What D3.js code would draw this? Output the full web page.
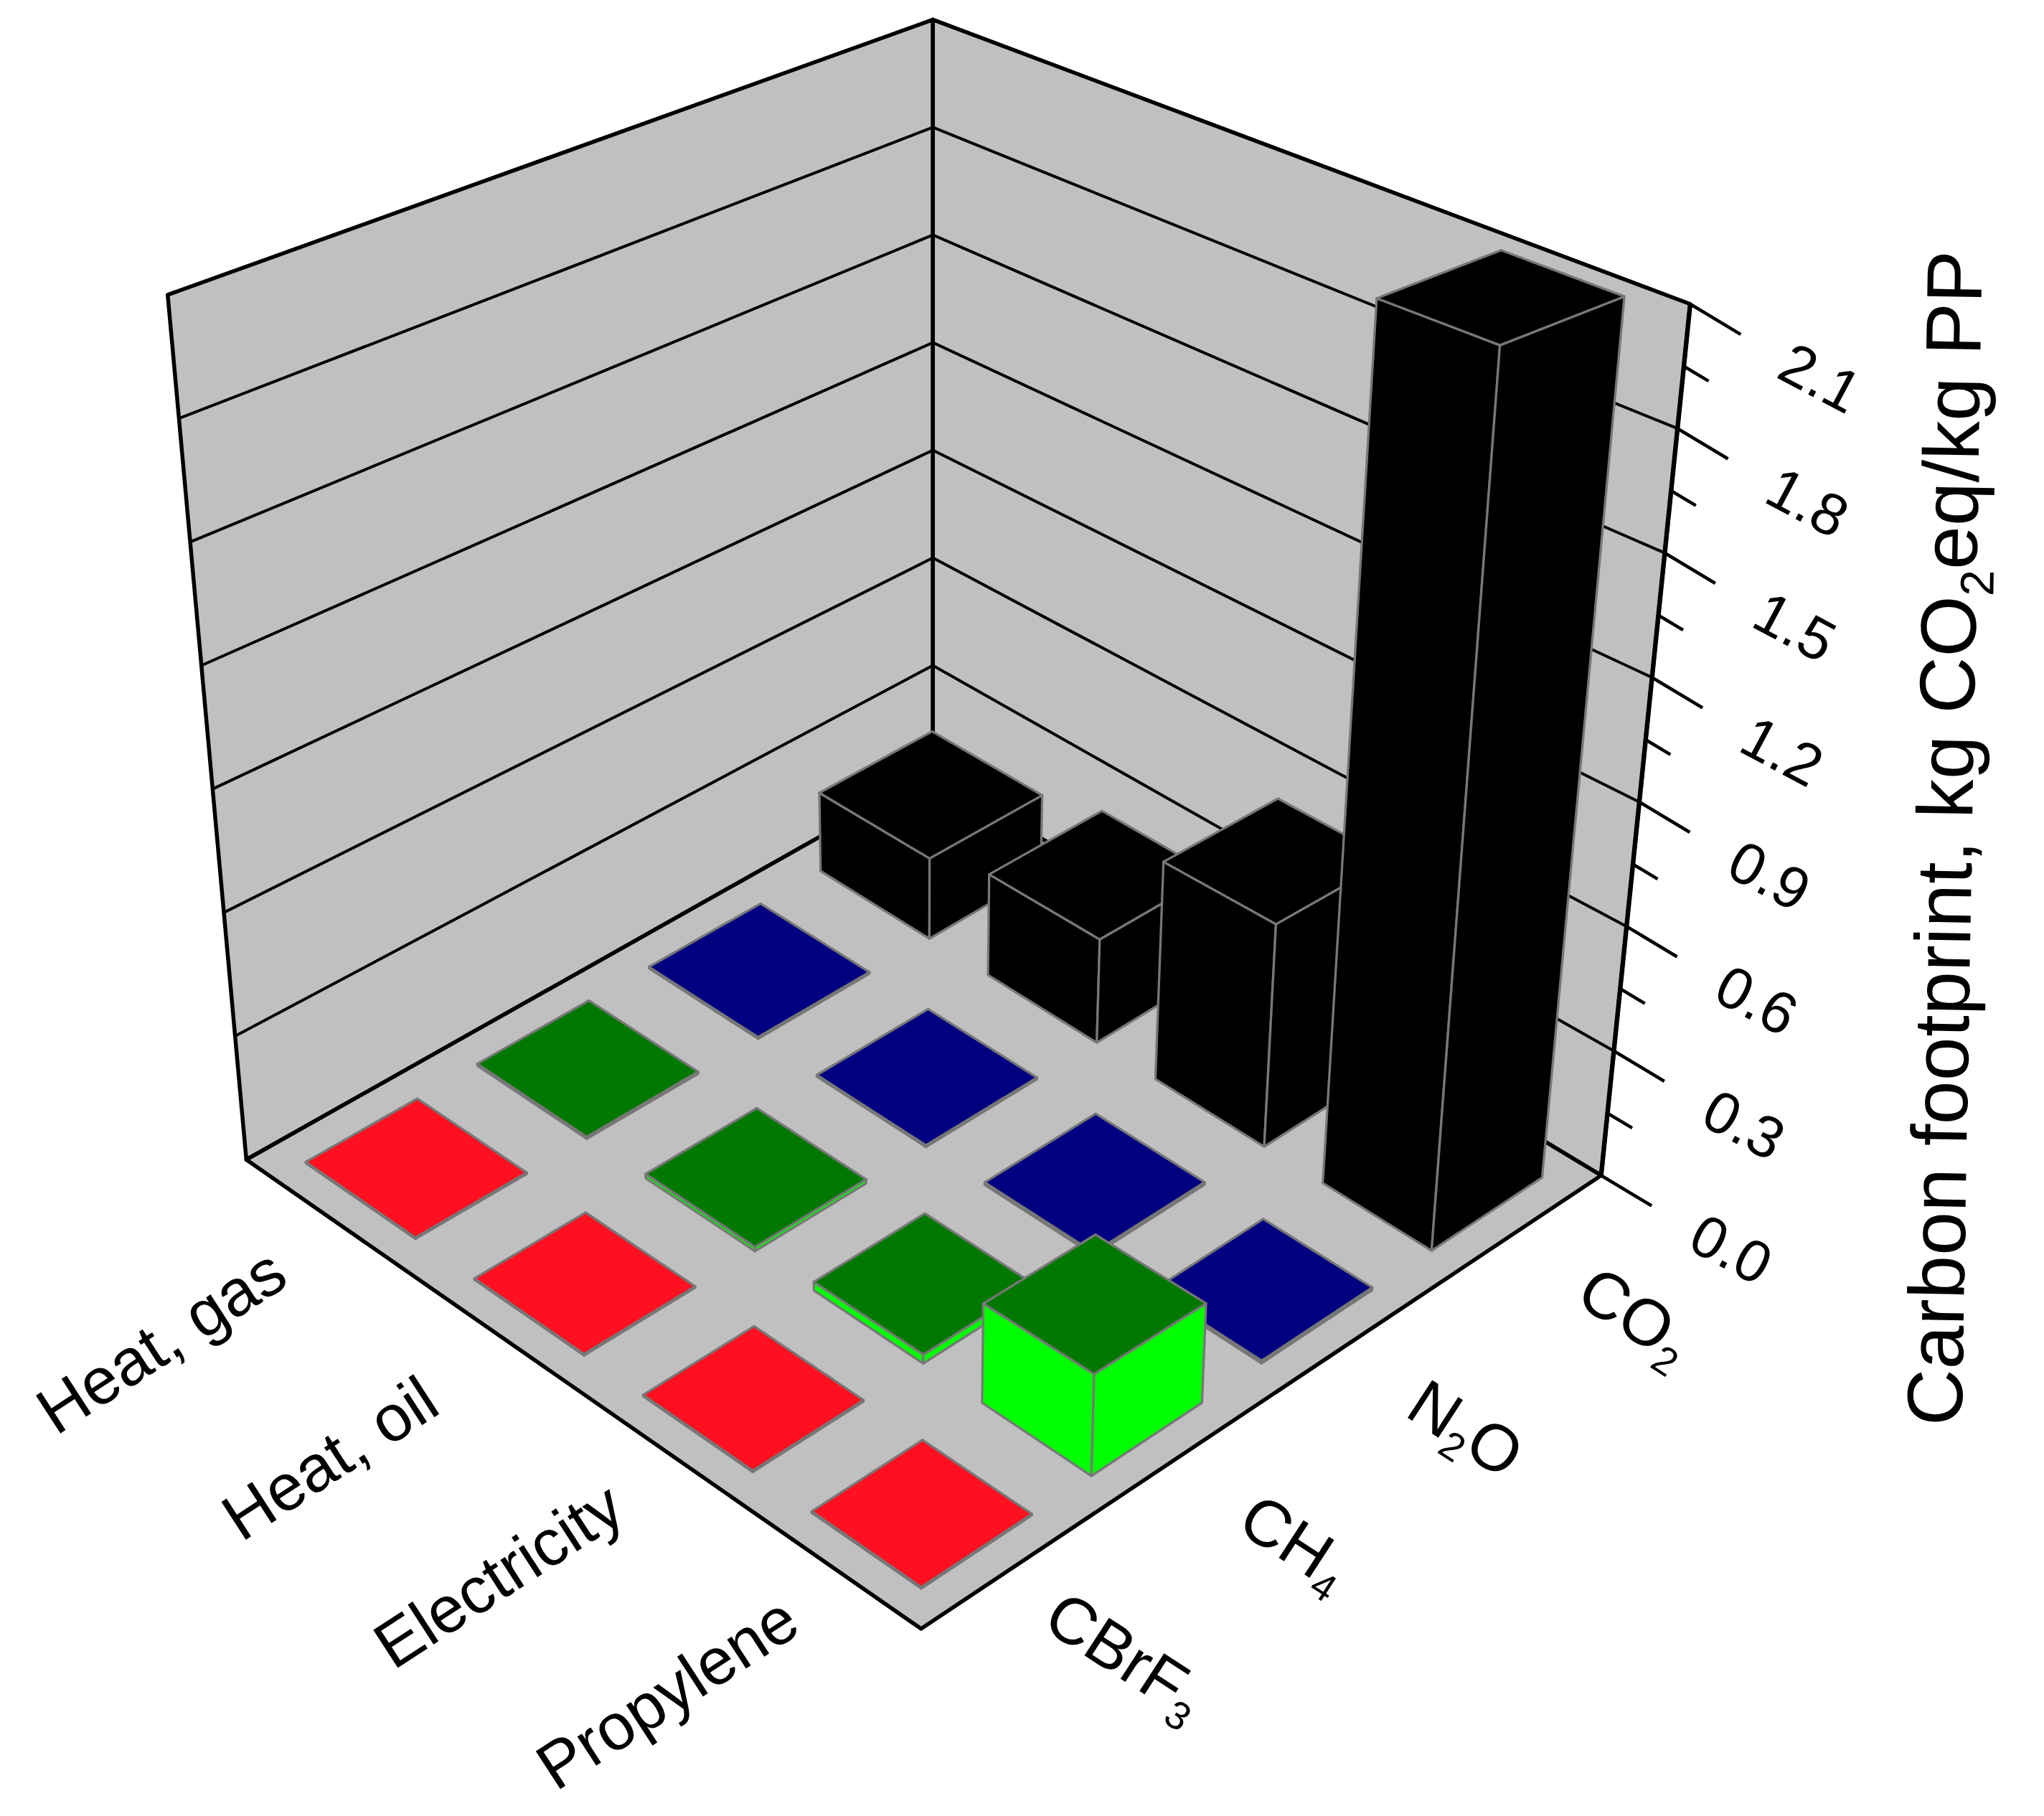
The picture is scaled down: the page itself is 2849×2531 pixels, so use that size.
<!DOCTYPE html>
<html><head><meta charset="utf-8">
<script src="https://cdn.jsdelivr.net/npm/d3@7"></script>
<style>body{margin:0;background:#fff}text{font-family:"Liberation Sans",Arial,sans-serif;fill:#000}</style>
</head><body><svg id="c" width="2849" height="2531"></svg>
<script>
const categories = ["Heat, gas","Heat, oil","Electricity","Propylene"];
const gases = ["CO2","N2O","CH4","CBrF3"];
const gasLabels = [["CO","2"],["N","2","O"],["CH","4"],["CBrF","3"]];
const co2 = [0.21,0.26,0.54,2.12];
const n2o = [0.004,0.004,0.006,0.006];
const ch4 = [0.005,0.01,0.02,0.22];
const cbrf3 = [0.003,0.003,0.003,0.003];
const series = [co2,n2o,ch4,cbrf3];
const zTicks = [0.0,0.3,0.6,0.9,1.2,1.5,1.8,2.1];
const topColors = ["#000000","#000080","#007800","#ff1020"];
const sideColors = ["#000000","#2020d0","#00ff00","#ff1020"];

const S = 2849/1560;
const svg = d3.select("#c");
const g0 = svg.append("g").attr("transform",`scale(${S})`);
const B=[712,590],R=[1222,897],L=[188,885],F=[703,1243];
const uB=[0,-575],uR=[68,-665],uL=[-60,-660],uF=[3,-780];
const zScale = d3.scaleLinear().domain([0,2.1]).range([0,1]);
const cScale = d3.scaleBand().domain(categories).range([0,1]).paddingInner(0.35).paddingOuter(0.175);
const gScale = d3.scaleBand().domain(gases).range([0,1]).paddingInner(0.35).paddingOuter(0.175);
function bil(p00,p10,p01,p11,c,g){
  return [0,1].map(i=>p00[i]*(1-c)*(1-g)+p10[i]*c*(1-g)+p01[i]*(1-c)*g+p11[i]*c*g);
}
function proj(c,g,z){
  const f=bil(B,R,L,F,c,g), u=bil(uB,uR,uL,uF,c,g), t=zScale(z);
  return [f[0]+u[0]*t,f[1]+u[1]*t];
}
const line = d3.line();
function poly(pts,fill,stroke,sw){
  g0.append("path").attr("d",line(pts)+"Z").attr("fill",fill).attr("stroke",stroke).attr("stroke-width",sw).attr("stroke-linejoin","round");
}
poly([proj(0,0,0),proj(0,1,0),proj(0,1,2.1),proj(0,0,2.1)],"#c0c0c0","#000",3);
poly([proj(0,0,0),proj(1,0,0),proj(1,0,2.1),proj(0,0,2.1)],"#c0c0c0","#000",3);
poly([proj(0,0,0),proj(1,0,0),proj(1,1,0),proj(0,1,0)],"#c0c0c0","#000",3);
zTicks.slice(1).forEach(z=>{
  g0.append("path").attr("d",line([proj(0,1,z),proj(0,0,z),proj(1,0,z)])).attr("fill","none").attr("stroke","#000").attr("stroke-width",2.2);
});
g0.append("path").attr("d",line([proj(1,0,0),proj(1,0,2.1)])).attr("stroke","#000").attr("stroke-width",3.5);
const dir=[R[0]-B[0],R[1]-B[1]], dl=Math.hypot(dir[0],dir[1]); const dn=[dir[0]/dl,dir[1]/dl];
d3.range(0,15).forEach(i=>{
  const z=i*0.15, p=proj(1,0,z), len=(i%2==0)?45:22;
  g0.append("line").attr("x1",p[0]).attr("y1",p[1]).attr("x2",p[0]+dn[0]*len).attr("y2",p[1]+dn[1]*len).attr("stroke","#000").attr("stroke-width",2.5);
});
zTicks.forEach(z=>{
  const p=proj(1,0,z);
  g0.append("text").attr("transform",`translate(${p[0]+92},${p[1]+70}) rotate(28)`).attr("text-anchor","middle").attr("font-size",45).text(z.toFixed(1));
});
const bars=[];
series.forEach((arr,gi)=>arr.forEach((v,ci)=>{
  const c0=cScale(categories[ci]), g1=gScale(gases[gi]), w=cScale.bandwidth();
  bars.push({c0,c1:c0+w,g0:g1,g1:g1+w,v,gi});
}));
bars.sort((a,b)=>(a.c0+a.g0)-(b.c0+b.g0));
bars.forEach(b=>{
  const st="#777";
  poly([proj(b.c0,b.g1,0),proj(b.c1,b.g1,0),proj(b.c1,b.g1,b.v),proj(b.c0,b.g1,b.v)],sideColors[b.gi],st,1.8);
  poly([proj(b.c1,b.g0,0),proj(b.c1,b.g1,0),proj(b.c1,b.g1,b.v),proj(b.c1,b.g0,b.v)],sideColors[b.gi],st,1.8);
  poly([proj(b.c0,b.g0,b.v),proj(b.c1,b.g0,b.v),proj(b.c1,b.g1,b.v),proj(b.c0,b.g1,b.v)],topColors[b.gi],st,1.8);
});
categories.forEach((cat,i)=>{
  const c=cScale(cat)+cScale.bandwidth()/2, p=proj(c,1,0);
  g0.append("text").attr("transform",`translate(${p[0]-120},${p[1]+108}) rotate(-33)`).attr("text-anchor","middle").attr("font-size",50).text(cat);
});
gasLabels.forEach((lab,i)=>{
  const gg=gScale(gases[i])+gScale.bandwidth()/2, p=proj(1,gg,0);
  const t=g0.append("text").attr("transform",`translate(${p[0]+82},${p[1]+78}) rotate(33)`).attr("text-anchor","middle").attr("font-size",50);
  lab.forEach((s,k)=>{
    const sub=(k%2==1);
    t.append("tspan").attr("font-size",sub?30:50).attr("dy",sub?10:(k>0?-10:0)).text(s);
  });
});
const tt=g0.append("text").attr("transform","translate(1505,640) rotate(-89)").attr("text-anchor","middle").attr("font-size",60);
tt.append("tspan").text("Carbon footprint, kg CO");
tt.append("tspan").attr("font-size",36).attr("dy",13).text("2");
tt.append("tspan").attr("dy",-13).text("eq/kg PP");
</script></body></html>
